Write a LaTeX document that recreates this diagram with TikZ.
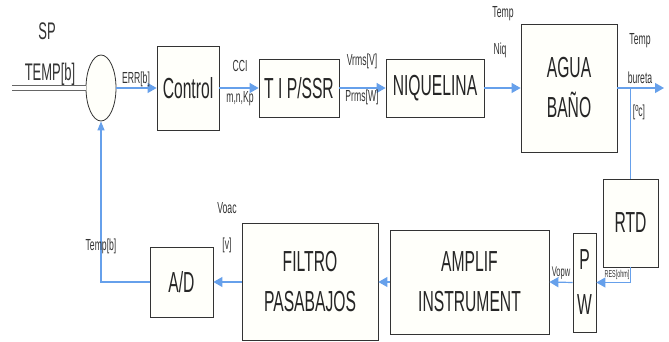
\documentclass[tikz,border=0pt]{standalone}
\usepackage{fontspec}
\newfontfamily\narrowsf[FakeStretch=0.54]{Liberation Sans}
\usepackage{tikz}
\usetikzlibrary{positioning,arrows.meta,shapes.geometric}
\definecolor{linkblue}{RGB}{102,160,235}
\definecolor{boxfill}{RGB}{255,255,250}
\definecolor{txtgray}{RGB}{51,51,51}
\tikzstyle{block}=[draw=black!80, fill=boxfill, line width=0.8pt, align=center,
        inner sep=0pt, text=black!85, font=\narrowsf\fontsize{29}{40}\selectfont]
\tikzstyle{lbl}=[text=txtgray, inner sep=0pt, font=\narrowsf\fontsize{16}{18}\selectfont]
\tikzstyle{link}=[draw=linkblue, line width=1.2pt, -{Triangle[length=9pt,width=10pt]}]

\begin{document}
\begin{tikzpicture}[x=1pt, y=1pt]
        \useasboundingbox (0,0) rectangle (669,342);

        \node[ellipse, draw=black!80, fill=boxfill, line width=0.8pt, inner sep=0pt,
            minimum width=30pt, minimum height=66pt] (sum) at (101,254) {};
        \node[block, minimum width=62pt, minimum height=84pt] (ctrl) at (188,254) {Control};
        \node[block, minimum width=80pt, minimum height=58pt] (tip) at (299,254) {T I P/SSR};
        \node[block, minimum width=98pt, minimum height=58pt] (niq) at (435,254) {NIQUELINA};
        \node[block, minimum width=96pt, minimum height=128pt] (agua) at (569,254) {AGUA\\BAÑO};
        \node[block, minimum width=55pt, minimum height=88pt] (rtd) at (630.5,119) {RTD};
        \node[block, minimum width=23pt, minimum height=99pt] (pw) at (584.5,59.5) {P\\[5pt]W};
        \node[block, minimum width=159pt, minimum height=104pt] (amp) at (469.5,60) {AMPLIF\\INSTRUMENT};
        \node[block, minimum width=136pt, minimum height=117pt] (fil) at (310,60) {FILTRO\\PASABAJOS};
        \node[block, minimum width=63pt, minimum height=70pt] (ad) at (181.5,60) {A/D};

        \coordinate (sp) at (12,254);
        \coordinate (out) at (664,254);

        % signal path
        \draw[double=white, draw=black!60, double distance=4.5pt, line width=1pt] (sp) -- (sum.west);
        \draw[link] (sum.east) -- (ctrl.west);
        \draw[link] (ctrl.east) -- (tip.west);
        \draw[link] (tip.east) -- (niq.west);
        \draw[link] (niq.east) -- (agua.west);
        \draw[link] (agua.east) -- (out);
        \draw[draw=linkblue, line width=1.2pt] (rtd.north) -- (rtd.north |- agua.east);
        \draw[link] (rtd.south) |- (pw.east);
        \draw[link] (pw.west) -- (amp.east);
        \draw[link] (amp.west) -- (fil.east);
        \draw[link] (fil.west) -- (ad.east);
        \draw[link, -{Triangle[length=9pt,width=7pt]}] (ad.west) -| (sum.south);

        % labels
        \node[lbl, font=\narrowsf\fontsize{24}{26}\selectfont] (splbl) at (47,311) {SP};
        \node[lbl, font=\narrowsf\fontsize{24}{26}\selectfont] (templbl) at (50,268) {TEMP[b]};
        \node[lbl] (err) at (136,263) {ERR[b]};
        \node[lbl] (cci) at (240,276) {CCI};
        \node[lbl] (mnk) at (240,243) {m,n,Kp};
        \node[lbl] (vrms) at (362,281) {Vrms[V]};
        \node[lbl] (prms) at (362,245) {Prms[W]};
        \node[lbl] (tniq) at (503,328) {Temp};
        \node[lbl] (niql) at (500,292) {Niq};
        \node[lbl] (tbur) at (640,301) {Temp};
        \node[lbl] (bur) at (640,264) {bureta};
        \node[lbl] (degc) at (639,230) {[ºc]};
        \node[lbl, font=\narrowsf\fontsize{10}{12}\selectfont] (res) at (617,67) {RES[ohm]};
        \node[lbl, font=\narrowsf\fontsize{14}{16}\selectfont] (vopw) at (561,69) {Vopw};
        \node[lbl] (voac) at (227,134) {Voac};
        \node[lbl] (volt) at (227,97) {[v]};
        \node[lbl] (tempb) at (101,96) {Temp[b]};

    \end{tikzpicture}
\end{document}
